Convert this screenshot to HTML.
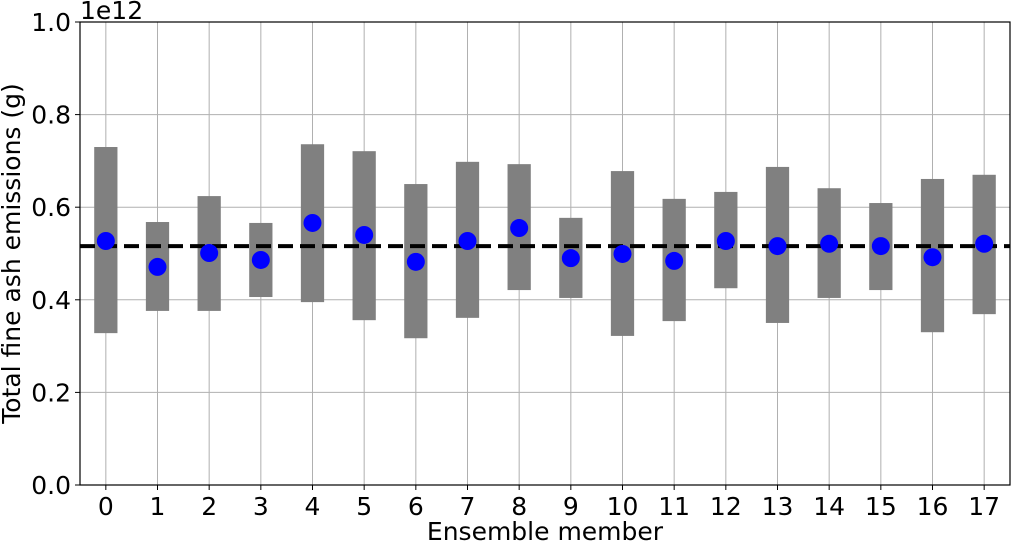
<!DOCTYPE html>
<html><head><meta charset="utf-8"><style>
html,body{margin:0;padding:0;background:#fff;}
svg text{font-family:"DejaVu Sans","Liberation Sans",sans-serif;fill:#000;}
</style></head><body>
<svg id="chart" width="1012" height="542" xmlns="http://www.w3.org/2000/svg"></svg>
<script>
const members = [0,1,2,3,4,5,6,7,8,9,10,11,12,13,14,15,16,17];
const highs = [0.730,0.568,0.624,0.566,0.736,0.721,0.650,0.698,0.693,0.577,0.678,0.618,0.633,0.687,0.641,0.609,0.661,0.670];
const lows = [0.328,0.376,0.376,0.406,0.395,0.356,0.317,0.361,0.421,0.404,0.322,0.354,0.425,0.350,0.404,0.421,0.330,0.369];
const means = [0.527,0.471,0.501,0.486,0.566,0.540,0.482,0.527,0.555,0.490,0.499,0.484,0.527,0.516,0.521,0.516,0.492,0.521];
const overallMean = [0.516];
const yTicks = [0.0,0.2,0.4,0.6,0.8,1.0];

const L=80,R=1010,T=22,B=485;
const xs=v=>L+(v+0.5)/18*(R-L);
const ys=v=>B-v/1.0*(B-T);
const svg=document.getElementById('chart');
const NS='http://www.w3.org/2000/svg';
function mk(tag,attrs,parent){const e=document.createElementNS(NS,tag);for(const k in attrs)e.setAttribute(k,attrs[k]);(parent||svg).appendChild(e);return e;}

const grid=mk('g',{});


members.forEach(m=>{mk('line',{x1:xs(m),x2:xs(m),y1:T,y2:B,stroke:'#b0b0b0','stroke-width':1},grid);});
yTicks.forEach(t=>{mk('line',{x1:L,x2:R,y1:ys(t),y2:ys(t),stroke:'#b0b0b0','stroke-width':1},grid);});

const bw=(R-L)/18*0.45;
members.forEach((m,i)=>{
  const r=mk('rect',{x:xs(m)-bw/2,y:ys(highs[i]),width:bw,height:ys(lows[i])-ys(highs[i]),fill:'#808080'});
  
  
});
const ml=mk('line',{x1:L,x2:R,y1:ys(overallMean[0]),y2:ys(overallMean[0]),stroke:'#000','stroke-width':4,'stroke-dasharray':'15,7'});


members.forEach((m,i)=>{
  const c=mk('circle',{cx:xs(m),cy:ys(means[i]),r:9,fill:'#0000ff'});
  
  
});

const frame=mk('rect',{x:L,y:T,width:R-L,height:B-T,fill:'none',stroke:'#000','stroke-width':1.2});



members.forEach(m=>{
  mk('line',{x1:xs(m),x2:xs(m),y1:B,y2:B+5,stroke:'#000'});
  const t=mk('text',{x:xs(m),y:B+30,'text-anchor':'middle','font-size':25});
  t.textContent=m;
  
  
});
yTicks.forEach(v=>{
  mk('line',{x1:L-5,x2:L,y1:ys(v),y2:ys(v),stroke:'#000'});
  const t=mk('text',{x:L-9,y:ys(v)+9,'text-anchor':'end','font-size':25});
  t.textContent=v.toFixed(1);
  
  
});
const off=mk('text',{x:80,y:19,'font-size':25});
off.textContent='1e12';


const xt=mk('text',{x:(L+R)/2,y:540,'text-anchor':'middle','font-size':25});
xt.textContent='Ensemble member';


const yt=mk('text',{x:0,y:0,'text-anchor':'middle','font-size':25,transform:'translate(20,'+((T+B)/2)+') rotate(-90)'});
yt.textContent='Total fine ash emissions (g)';


</script>
</body></html>
